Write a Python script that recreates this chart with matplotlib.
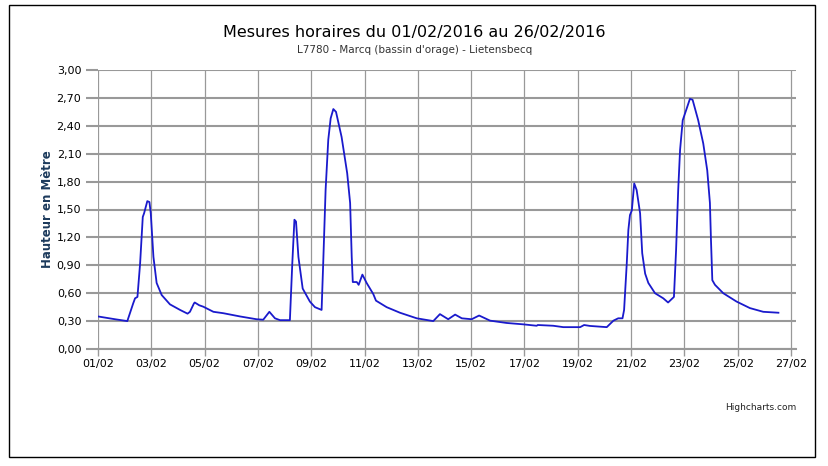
import matplotlib.pyplot as plt
from matplotlib.patches import Rectangle

# jours écoulés depuis le 01/02/2016 00:00 et hauteur d'eau (m)
jours = [0.00, 0.64, 1.10, 1.32, 1.39, 1.48, 1.58, 1.68, 1.73, 1.85, 1.93, 1.98, 2.08, 2.20, 2.39,
         2.70, 3.08, 3.36, 3.45, 3.60, 3.63, 3.80, 3.95, 4.33, 4.70, 5.33, 5.95, 6.20, 6.43, 6.64,
         6.83, 7.20, 7.29, 7.37, 7.43, 7.52, 7.68, 7.95, 8.14, 8.39, 8.45, 8.54, 8.64, 8.73, 8.83,
         8.93, 9.14, 9.35, 9.46, 9.52, 9.56, 9.71, 9.78, 9.92, 10.08, 10.33, 10.43, 10.83, 11.33,
         11.96, 12.58, 12.83, 13.14, 13.40, 13.65, 14.02, 14.30, 14.71, 15.33, 15.96, 16.46, 16.50,
         17.08, 17.46, 18.09, 18.24, 18.46, 19.09, 19.34, 19.52, 19.68, 19.74, 19.84, 19.90, 19.96,
         20.03, 20.12, 20.21, 20.34, 20.42, 20.53, 20.65, 20.90, 21.21, 21.39, 21.61, 21.69, 21.77,
         21.84, 21.94, 22.07, 22.21, 22.31, 22.52, 22.71, 22.86, 22.96, 23.00, 23.05, 23.15, 23.46,
         23.96, 24.46, 24.96, 25.53]
hauteurs = [0.35, 0.32, 0.30, 0.49, 0.545, 0.56, 0.92, 1.42, 1.46, 1.59, 1.58, 1.46, 0.99, 0.71, 0.58,
            0.48, 0.42, 0.38, 0.40, 0.49, 0.50, 0.47, 0.455, 0.40, 0.385, 0.35, 0.32, 0.315, 0.40, 0.33,
            0.31, 0.31, 0.92, 1.39, 1.37, 0.99, 0.65, 0.51, 0.45, 0.42, 0.92, 1.71, 2.25, 2.48, 2.58,
            2.55, 2.28, 1.89, 1.57, 0.99, 0.72, 0.72, 0.69, 0.80, 0.71, 0.59, 0.52, 0.45, 0.39,
            0.33, 0.30, 0.375, 0.32, 0.37, 0.33, 0.32, 0.36, 0.305, 0.28, 0.265, 0.25, 0.258,
            0.25, 0.235, 0.235, 0.258, 0.248, 0.235, 0.305, 0.33, 0.33, 0.42, 0.92, 1.28, 1.44,
            1.49, 1.78, 1.71, 1.46, 1.03, 0.81, 0.71, 0.60, 0.545, 0.50, 0.56, 1.06, 1.71,
            2.14, 2.46, 2.57, 2.69, 2.68, 2.46, 2.21, 1.92, 1.57, 1.17, 0.74, 0.69, 0.60,
            0.51, 0.44, 0.40, 0.39]

graduations_x = list(range(0, 27, 2))
etiquettes_x = ['01/02', '03/02', '05/02', '07/02', '09/02', '11/02', '13/02', '15/02',
                '17/02', '19/02', '21/02', '23/02', '25/02', '27/02']
graduations_y = [i * 0.3 for i in range(11)]
etiquettes_y = ['0,00', '0,30', '0,60', '0,90', '1,20', '1,50', '1,80', '2,10', '2,40', '2,70', '3,00']

fig = plt.figure(figsize=(8.29, 4.66), dpi=100)
ax = fig.add_axes([98 / 829, 1 - 349 / 466, 698 / 829, 279 / 466])

ax.plot(jours, hauteurs, color='#1a1acc', lw=1.3, zorder=3)

ax.set_xlim(0, 26.19)
ax.set_ylim(0, 3)
ax.set_xticks(graduations_x)
ax.set_xticklabels(etiquettes_x, fontsize=8)
ax.set_yticks(graduations_y)
ax.set_yticklabels(etiquettes_y, fontsize=8)
ax.tick_params(axis='x', length=5, width=1, color='#999999', pad=2)
ax.tick_params(axis='y', length=9, width=1.5, color='#999999', pad=3)

ax.grid(axis='y', color='#999999', lw=1.5)
ax.grid(axis='x', color='#999999', lw=0.9)
for s in ['top', 'right', 'left']:
    ax.spines[s].set_visible(False)
ax.spines['bottom'].set_color('#999999')
ax.spines['bottom'].set_linewidth(1.5)

ax.set_ylabel('Hauteur en Mètre', fontsize=8.5, fontweight='bold', color='#1c3a5c', labelpad=2)

fig.text(0.5, 1 - 33 / 466, 'Mesures horaires du 01/02/2016 au 26/02/2016', ha='center', va='center', fontsize=11.5)
fig.text(0.5, 1 - 50 / 466, "L7780 - Marcq (bassin d'orage) - Lietensbecq", ha='center', va='center', fontsize=7.5, color='#333333')
fig.text(796 / 829, 1 - 407 / 466, 'Highcharts.com', ha='right', va='center', fontsize=6.5, color='#222222')

fig.patches.append(Rectangle((9 / 829, 1 - 457 / 466), 806 / 829, 452 / 466, transform=fig.transFigure,
                             fill=False, edgecolor='black', lw=1))

plt.savefig('out.png', dpi=100)
